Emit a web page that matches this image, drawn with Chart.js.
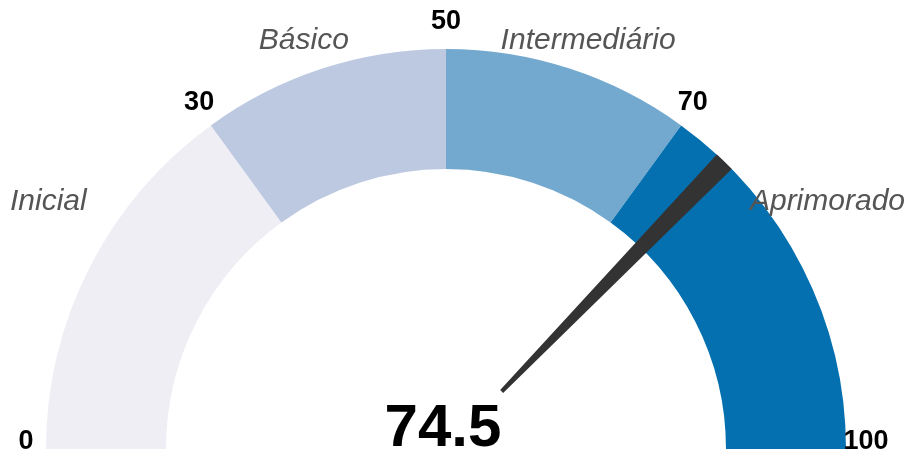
<!DOCTYPE html>
<html>
<head>
<meta charset="utf-8">
<script src="https://cdn.jsdelivr.net/npm/chart.js@4/dist/chart.umd.min.js"></script>
<style>
  html, body { margin: 0; padding: 0; background: #fff; }
  #wrap { width: 907px; height: 453px; position: relative; }
</style>
</head>
<body>
<div id="wrap"><canvas id="gauge"></canvas></div>
<script>
// faixas do medidor
var categories = ["Inicial", "Básico", "Intermediário", "Aprimorado"];
var bandEdges = [0, 30, 50, 70, 100];
var bandColors = ["#f0eef5", "#bdc9e1", "#74a9cf", "#0570b0"];
var tickLabels = ["0", "30", "50", "70", "100"];
var gaugeValue = 74.5;

var FONT = "'Liberation Sans', Arial, sans-serif";

// tamanhos das faixas a partir dos limites
var bandSizes = [];
for (var i = 1; i < bandEdges.length; i++) {
  bandSizes.push(bandEdges[i] - bandEdges[i - 1]);
}

var minV = bandEdges[0];
var maxV = bandEdges[bandEdges.length - 1];

function valueToAngle(v) {
  // semicirculo: de -PI (esquerda) ate 0 (direita)
  return -Math.PI + ((v - minV) / (maxV - minV)) * Math.PI;
}

var gaugeExtras = {
  id: "gaugeExtras",
  afterDraw: function (chart) {
    var arc = chart.getDatasetMeta(0).data[0];
    if (!arc) return;
    var cx = arc.x, cy = arc.y;
    var outer = arc.outerRadius;
    var ctx = chart.ctx;
    ctx.save();

    /** ponteiro */
    var a = valueToAngle(gaugeValue);
    var half = 0.026;
    var baseR = outer * 0.2;
    ctx.beginPath();
    ctx.arc(cx, cy, outer, a - half, a + half);
    ctx.arc(cx, cy, baseR, a + half, a - half, true);
    ctx.closePath();
    ctx.fillStyle = "#333333";
    ctx.fill();

    /** rotulos dos limites */
    ctx.fillStyle = "#000";
    ctx.font = "bold 27px " + FONT;
    ctx.textAlign = "center";
    ctx.textBaseline = "middle";
    var tickR = outer + 20;
    for (var t = 0; t < bandEdges.length; t++) {
      var ta = valueToAngle(bandEdges[t]);
      ctx.fillText(tickLabels[t], cx + Math.cos(ta) * tickR, cy + Math.sin(ta) * tickR - 7);
    }

    /** nomes das faixas */
    ctx.fillStyle = "#555555";
    ctx.font = "italic 30px " + FONT;
    var catR = outer + 29;
    for (var c = 0; c < categories.length; c++) {
      var mid = (bandEdges[c] + bandEdges[c + 1]) / 2;
      var ca = valueToAngle(mid);
      var cosA = Math.cos(ca), sinA = Math.sin(ca);
      var lift = Math.max(0, (Math.abs(cosA) - 0.309) / (0.891 - 0.309)) * 53;
      var x = cx + cosA * (outer + 60);
      var y = cy + sinA * catR - lift;
      var w = ctx.measureText(categories[c]).width;
      x = Math.max(x, 10 + w / 2);
      x = Math.min(x, chart.width - 2 - w / 2);
      ctx.fillText(categories[c], x, y);
    }

    /** valor */
    ctx.fillStyle = "#000";
    ctx.font = "bold 60px " + FONT;
    ctx.textBaseline = "alphabetic";
    ctx.fillText(String(gaugeValue), cx - 3, cy - 3);

    ctx.restore();
  },
};

window.addEventListener("DOMContentLoaded", function () {
  var ctx = document.getElementById("gauge");
  new Chart(ctx, {
    type: "doughnut",
    data: {
      labels: categories,
      datasets: [
        {
          data: bandSizes,
          backgroundColor: bandColors,
          borderWidth: 0,
          hoverOffset: 0,
        },
      ],
    },
    options: {
      responsive: true,
      maintainAspectRatio: false,
      animation: false,
      events: [],
      rotation: -90,
      circumference: 180,
      cutout: "70%",
      layout: {
        padding: { left: 46, right: 61, top: 49, bottom: 4 },
      },
      plugins: {
        legend: { display: false },
        tooltip: { enabled: false },
      },
    },
    plugins: [gaugeExtras],
  });
});
</script>
</body>
</html>
